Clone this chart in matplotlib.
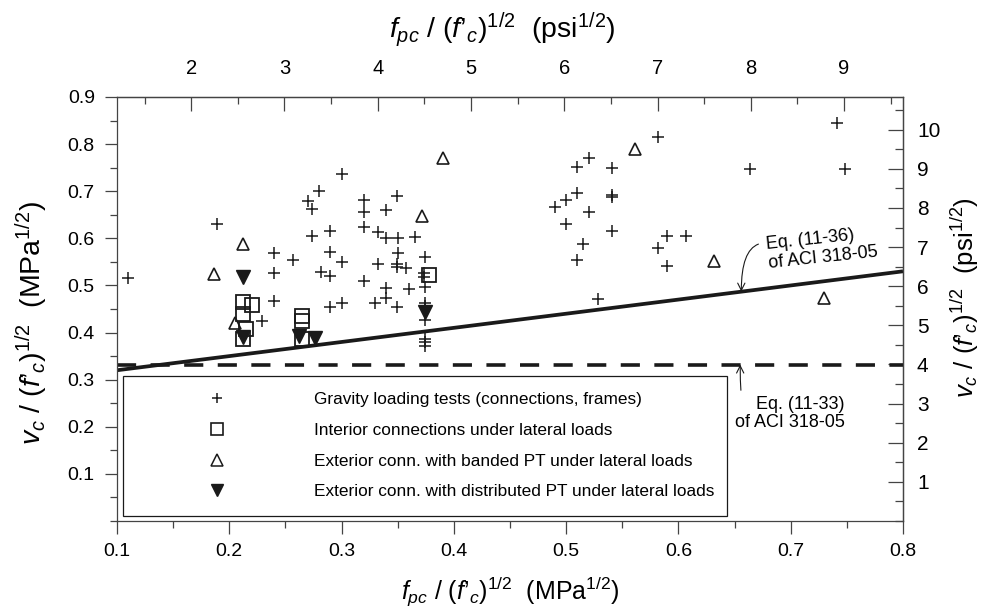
import matplotlib
matplotlib.use("Agg")
import matplotlib.pyplot as plt
from matplotlib.lines import Line2D
from matplotlib.ticker import MultipleLocator, FixedLocator

plt.rcParams['font.family'] = ['Liberation Sans', 'DejaVu Sans']
plt.rcParams['mathtext.fontset'] = 'custom'
plt.rcParams['mathtext.rm'] = 'Liberation Sans'
plt.rcParams['mathtext.it'] = 'Liberation Sans:italic'
plt.rcParams['mathtext.bf'] = 'Liberation Sans:bold'

# ---------------- data ----------------
gravity_x = [0.110, 0.189, 0.240, 0.240, 0.240, 0.2295, 0.257,
             0.300, 0.280, 0.270, 0.274, 0.320, 0.320, 0.349, 0.340, 0.320, 0.290,
             0.274, 0.332, 0.340, 0.350, 0.290, 0.300, 0.282, 0.290, 0.320, 0.332,
             0.350, 0.349, 0.349, 0.357, 0.340, 0.340, 0.330, 0.349, 0.300, 0.290, 0.360,
             0.365, 0.374, 0.373, 0.373, 0.374, 0.374, 0.374, 0.374, 0.374, 0.374, 0.374,
             0.5816, 0.520, 0.510, 0.541, 0.664, 0.510, 0.500, 0.490, 0.541, 0.541,
             0.520, 0.500, 0.541, 0.515, 0.510, 0.590, 0.607, 0.5816, 0.590, 0.528,
             0.741, 0.748]
gravity_y = [0.515, 0.631, 0.569, 0.527, 0.466, 0.425, 0.555,
             0.736, 0.701, 0.680, 0.662, 0.682, 0.655, 0.689, 0.661, 0.624, 0.615,
             0.605, 0.614, 0.601, 0.601, 0.571, 0.550, 0.529, 0.520, 0.510, 0.546,
             0.569, 0.546, 0.539, 0.538, 0.495, 0.474, 0.462, 0.455, 0.462, 0.455, 0.492,
             0.603, 0.561, 0.527, 0.517, 0.497, 0.462, 0.457, 0.426, 0.386, 0.381, 0.372,
             0.816, 0.770, 0.751, 0.749, 0.747, 0.696, 0.682, 0.666, 0.693, 0.688,
             0.655, 0.631, 0.615, 0.587, 0.555, 0.605, 0.605, 0.580, 0.541, 0.471,
             0.844, 0.748]

interior_x = [0.2126, 0.2126, 0.2147, 0.2126, 0.2206, 0.2646, 0.2646, 0.2646, 0.378]
interior_y = [0.464, 0.439, 0.407, 0.386, 0.458, 0.436, 0.424, 0.386, 0.522]

banded_x = [0.186, 0.2126, 0.205, 0.372, 0.390, 0.561, 0.632, 0.7295]
banded_y = [0.525, 0.587, 0.420, 0.647, 0.770, 0.789, 0.552, 0.474]

distrib_x = [0.2126, 0.2126, 0.262, 0.276, 0.3745]
distrib_y = [0.518, 0.390, 0.393, 0.388, 0.443]

eq36_x = [0.1, 0.8]
eq36_y = [0.32, 0.53]
eq33_x = [0.1, 0.8]
eq33_y = [0.332, 0.332]

legend_labels = ["Gravity loading tests (connections, frames)",
                 "Interior connections under lateral loads",
                 "Exterior conn. with banded PT under lateral loads",
                 "Exterior conn. with distributed PT under lateral loads"]

x_ticks = [0.1, 0.2, 0.3, 0.4, 0.5, 0.6, 0.7, 0.8]
y_ticks = [0.1, 0.2, 0.3, 0.4, 0.5, 0.6, 0.7, 0.8, 0.9]
top_ticks = [2, 3, 4, 5, 6, 7, 8, 9]
right_ticks = [1, 2, 3, 4, 5, 6, 7, 8, 9, 10]
PSI_PER_MPA = 12.04  # sqrt(145.04)

# ---------------- figure ----------------
fig = plt.figure(figsize=(9.82, 6.12), dpi=100)
ax = fig.add_axes([117/982, 1-521/612, 786/982, 424/612])
ax.set_xlim(0.1, 0.8)
ax.set_ylim(0.0, 0.9)

ink = '#1a1a1a'
ax.plot(eq36_x, eq36_y, color=ink, lw=2.7, solid_capstyle='butt', zorder=2)
ax.plot(eq33_x, eq33_y, color=ink, lw=2.6, dashes=(5.3, 4.0), zorder=2)

ax.plot(gravity_x, gravity_y, ls='none', marker='+', ms=8, mew=1.1, color=ink, zorder=3)
ax.plot(interior_x, interior_y, ls='none', marker='s', ms=9.5, mfc='none', mec=ink, mew=1.3, zorder=3)
ax.plot(banded_x, banded_y, ls='none', marker='^', ms=9, mfc='none', mec=ink, mew=1.2, zorder=3)
ax.plot(distrib_x, distrib_y, ls='none', marker='v', ms=10, color=ink, zorder=3)

# annotations
ax.annotate("Eq. (11-36)\nof ACI 318-05", xy=(0.656, 0.487), xytext=(0.679, 0.566),
            ha='left', va='center', rotation=6, fontsize=13, linespacing=1.15,
            rotation_mode='anchor',
            arrowprops=dict(arrowstyle='->', lw=0.8, color=ink, relpos=(0.0, 0.62),
                            shrinkA=3, shrinkB=0,
                            connectionstyle='angle3,angleA=180,angleB=90'))
ax.annotate("Eq. (11-33)\nof ACI 318-05", xy=(0.655, 0.332), xytext=(0.748, 0.228),
            ha='right', va='center', fontsize=13, linespacing=1.12,
            arrowprops=dict(arrowstyle='->', lw=0.8, color=ink, relpos=(0.07, 0.95),
                            shrinkA=2, shrinkB=0,
                            connectionstyle='angle3,angleA=135,angleB=90'))

# legend
handles = [Line2D([], [], ls='none', marker='+', ms=7.5, mew=1.1, color=ink),
           Line2D([], [], ls='none', marker='s', ms=9, mfc='none', mec=ink, mew=1.2),
           Line2D([], [], ls='none', marker='^', ms=8, mfc='none', mec=ink, mew=1.1),
           Line2D([], [], ls='none', marker='v', ms=9, color=ink)]
leg = ax.legend(handles, legend_labels, loc='lower left',
                bbox_to_anchor=(0.0076, 0.0118, 0.7685, 0.33), mode='expand',
                fontsize=12.4, frameon=True, fancybox=False, framealpha=1,
                edgecolor=ink, borderpad=0.98, labelspacing=0.9,
                handlelength=9.0, handletextpad=1.1, numpoints=1, borderaxespad=0)
leg.get_frame().set_linewidth(0.9)

# main axes ticks
ax.set_xticks(x_ticks)
ax.set_yticks(y_ticks)
ax.xaxis.set_minor_locator(MultipleLocator(0.05))
ax.yaxis.set_minor_locator(MultipleLocator(0.05))
ax.set_xticklabels([f"{v:.1f}" for v in x_ticks])
ax.set_yticklabels([f"{v:.1f}" for v in y_ticks])
ax.tick_params(which='major', direction='out', length=9, width=0.9, color='#444',
               labelsize=14, pad=7)
ax.tick_params(which='minor', direction='out', length=5, width=0.9, color='#444')
for s in ax.spines.values():
    s.set_linewidth(0.9)
    s.set_color('#444')

ax.set_xlabel(r"$f_{pc}$ / ($f$’$_c$)$^{1/2}$  (MPa$^{1/2}$)", fontsize=18, labelpad=10)
ax.set_ylabel(r"$v_c$ / ($f$’$_c$)$^{1/2}$  (MPa$^{1/2}$)", fontsize=20.5)
ax.yaxis.set_label_coords(-0.085, 0.468)

# secondary axes (psi^1/2)
secx = ax.secondary_xaxis('top', functions=(lambda x: x * PSI_PER_MPA, lambda x: x / PSI_PER_MPA))
secx.xaxis.set_major_locator(FixedLocator(top_ticks))
secx.xaxis.set_minor_locator(MultipleLocator(0.5))
secx.tick_params(which='major', direction='in', length=10, width=0.9, color='#444',
                 labelsize=14.5, pad=14)
secx.tick_params(which='minor', direction='in', length=5, width=0.9, color='#444')
secx.set_xlabel(r"$f_{pc}$ / ($f$’$_c$)$^{1/2}$  (psi$^{1/2}$)", fontsize=20.5, labelpad=15)
secx.xaxis.label.set_x(0.49)
secx.spines['top'].set_linewidth(0.9)
secx.spines['top'].set_color('#444')

secy = ax.secondary_yaxis('right', functions=(lambda y: y * PSI_PER_MPA, lambda y: y / PSI_PER_MPA))
secy.yaxis.set_major_locator(FixedLocator(right_ticks))
secy.yaxis.set_minor_locator(MultipleLocator(0.5))
secy.tick_params(which='major', direction='in', length=11, width=0.9, color='#444',
                 labelsize=15, pad=10)
secy.tick_params(which='minor', direction='in', length=5.5, width=0.9, color='#444')
secy.set_ylabel(r"$v_c$ / ($f$’$_c$)$^{1/2}$  (psi$^{1/2}$)", fontsize=18.5, labelpad=6)
secy.yaxis.label.set_y(0.526)
secy.spines['right'].set_linewidth(0.9)
secy.spines['right'].set_color('#444')

fig.savefig("out.png", dpi=100)
